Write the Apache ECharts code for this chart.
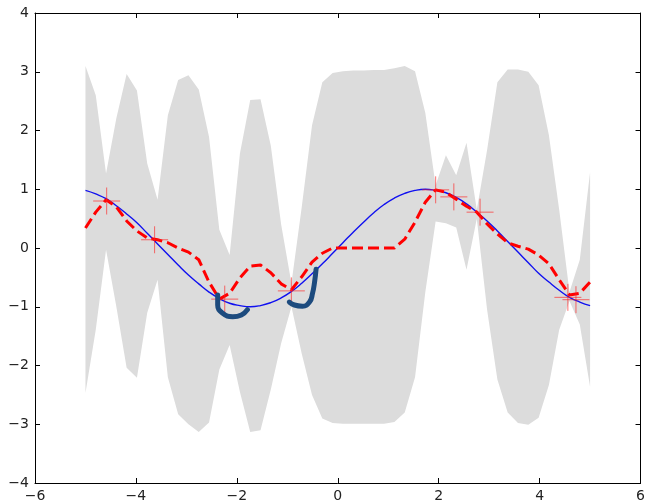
<!DOCTYPE html>
<html>
<head>
<meta charset="utf-8">
<script src="https://cdn.jsdelivr.net/npm/echarts@6/dist/echarts.min.js"></script>
<style>
html,body{margin:0;padding:0;background:#fff;}
#gpChart{width:648px;height:503px;}
</style>
</head>
<body>
<div id="gpChart"></div>
<script>
// sample points of the prediction grid
var gridX = [-5, -4.796, -4.592, -4.388, -4.184, -3.980, -3.776, -3.571, -3.367, -3.163,
	-2.959, -2.755, -2.551, -2.347, -2.143, -1.939, -1.735, -1.531, -1.327, -1.122,
	-0.918, -0.714, -0.510, -0.306, -0.102, 0.102, 0.306, 0.510, 0.714, 0.918,
	1.122, 1.327, 1.531, 1.735, 1.939, 2.143, 2.347, 2.551, 2.755, 2.959,
	3.163, 3.367, 3.571, 3.776, 3.980, 4.184, 4.388, 4.592, 4.796, 5];
// grey band, upper and lower edge
var bandUpper = [3.10, 2.60, 1.27, 2.21, 2.96, 2.68, 1.44, 0.82, 2.26, 2.86,
	2.94, 2.70, 1.89, 0.31, -0.12, 1.61, 2.52, 2.53, 1.74, 0.40,
	-0.60, 0.70, 2.09, 2.82, 2.98, 3.01, 3.02, 3.02, 3.03, 3.03,
	3.06, 3.10, 3.01, 2.30, 1.07, 1.58, 1.24, 1.79, 0.65, 1.67,
	2.82, 3.04, 3.04, 3.00, 2.77, 1.92, 0.65, -0.75, -0.20, 1.29];
var bandLower = [-2.47, -1.39, -0.03, -1.00, -2.04, -2.21, -1.10, -0.54, -2.20, -2.83,
	-3.00, -3.13, -2.97, -2.07, -1.65, -2.45, -3.13, -3.10, -2.41, -1.62,
	-1.00, -1.80, -2.50, -2.90, -2.98, -2.99, -2.99, -2.99, -2.99, -2.99,
	-2.96, -2.80, -2.20, -0.75, 0.45, 0.42, 0.35, -0.37, 0.50, -1.05,
	-2.24, -2.80, -2.98, -3.01, -2.89, -2.33, -1.39, -0.90, -1.30, -2.36];
// red dashed prediction
var meanY = [0.34, 0.61, 0.82, 0.70, 0.46, 0.29, 0.17, 0.14, 0.09, 0.00,
	-0.07, -0.20, -0.58, -0.87, -0.77, -0.51, -0.31, -0.29, -0.42, -0.61,
	-0.71, -0.49, -0.24, -0.09, 0.00, 0.00, 0.00, 0.00, 0.00, 0.00,
	0.00, 0.15, 0.44, 0.78, 0.99, 0.95, 0.83, 0.71, 0.61, 0.41,
	0.24, 0.09, 0.03, -0.02, -0.12, -0.27, -0.54, -0.80, -0.77, -0.58];
// blue solid curve
var trueY = [0.98, 0.92, 0.84, 0.72, 0.58, 0.43, 0.25, 0.07, -0.11, -0.29,
	-0.46, -0.61, -0.75, -0.86, -0.94, -0.98, -1.00, -0.98, -0.93, -0.85,
	-0.74, -0.60, -0.44, -0.27, -0.09, 0.09, 0.27, 0.44, 0.60, 0.74,
	0.85, 0.93, 0.98, 1.00, 0.98, 0.94, 0.86, 0.75, 0.61, 0.46,
	0.29, 0.11, -0.07, -0.25, -0.43, -0.58, -0.72, -0.84, -0.92, -0.98];
// observations (red +)
var obsX = [-4.58, -3.63, -2.24, -0.92, 1.94, 2.30, 2.82, 4.56, 4.72];
var obsY = [0.80, 0.14, -0.87, -0.73, 0.99, 0.87, 0.61, -0.84, -0.88];
// hand drawn marks
var noteLeft = [[-2.38, -0.80], [-2.38, -0.97], [-2.28, -1.11], [-2.08, -1.17], [-1.91, -1.14], [-1.79, -1.05]];
var noteRight = [[-0.43, -0.36], [-0.46, -0.58], [-0.50, -0.77], [-0.56, -0.92], [-0.70, -0.99], [-0.86, -0.97], [-0.96, -0.92]];

function pairs(xs, ys){
	var out = [];
	for (var i = 0; i < xs.length; i++) out.push([xs[i], ys[i]]);
	return out;
}

function minusLabel(v){
	return String(v).replace('-', '\u2212');
}

function makeAxis(kind, pos, showLabel){
	var isX = kind == 'x';
	return {
		type: 'value',
		position: pos,
		min: isX ? -6 : -4,
		max: isX ? 6 : 4,
		interval: isX ? 2 : 1,
		axisLine: {show: true, onZero: false, lineStyle: {color: '#000', width: 1}},
		axisTick: {show: true, inside: true, length: 5, lineStyle: {color: '#000', width: 1}},
		splitLine: {show: false},
		axisLabel: {
			show: showLabel,
			formatter: minusLabel,
			fontFamily: 'DejaVu Sans',
			fontSize: 14,
			color: '#222',
			margin: 6
		}
	};
}

function GPChart(){
	var chart = echarts.init(document.getElementById('gpChart'));
	var option = {
		animation: false,
		grid: {left: 35, right: 5, top: 13, bottom: 20},
		xAxis: [makeAxis('x', 'bottom', true), makeAxis('x', 'top', false)],
		yAxis: [makeAxis('y', 'left', true), makeAxis('y', 'right', false)],
		series: [
			{
				type: 'custom',
				silent: true,
				z: 1,
				data: [[0, 0]],
				renderItem: function(params, api){
					var pts = [];
					for (var i = 0; i < gridX.length; i++) pts.push(api.coord([gridX[i], bandUpper[i]]));
					for (var j = gridX.length - 1; j >= 0; j--) pts.push(api.coord([gridX[j], bandLower[j]]));
					return {type: 'polygon', shape: {points: pts}, style: {fill: '#dcdcdc', stroke: 'none'}};
				}
			},
			{
				type: 'line',
				z: 2,
				smooth: true,
				symbol: 'none',
				data: pairs(gridX, trueY),
				lineStyle: {color: '#1010f0', width: 1.4}
			},
			{
				type: 'line',
				z: 3,
				symbol: 'none',
				data: pairs(gridX, meanY),
				lineStyle: {color: '#ff0000', width: 3, type: [11, 5]}
			},
			{
				type: 'scatter',
				z: 4,
				symbol: 'path://M0,13L26,13M13,0L13,26',
				symbolSize: 27,
				data: pairs(obsX, obsY),
				itemStyle: {color: 'transparent', borderColor: 'rgba(255,30,30,0.8)', borderWidth: 1}
			},
			{
				type: 'line',
				z: 5,
				smooth: true,
				symbol: 'none',
				data: noteLeft,
				lineStyle: {color: '#1d4b7e', width: 5, cap: 'round'}
			},
			{
				type: 'line',
				z: 5,
				smooth: true,
				symbol: 'none',
				data: noteRight,
				lineStyle: {color: '#1d4b7e', width: 5, cap: 'round'}
			}
		]
	};
	chart.setOption(option);
}

GPChart();
</script>
</body>
</html>
